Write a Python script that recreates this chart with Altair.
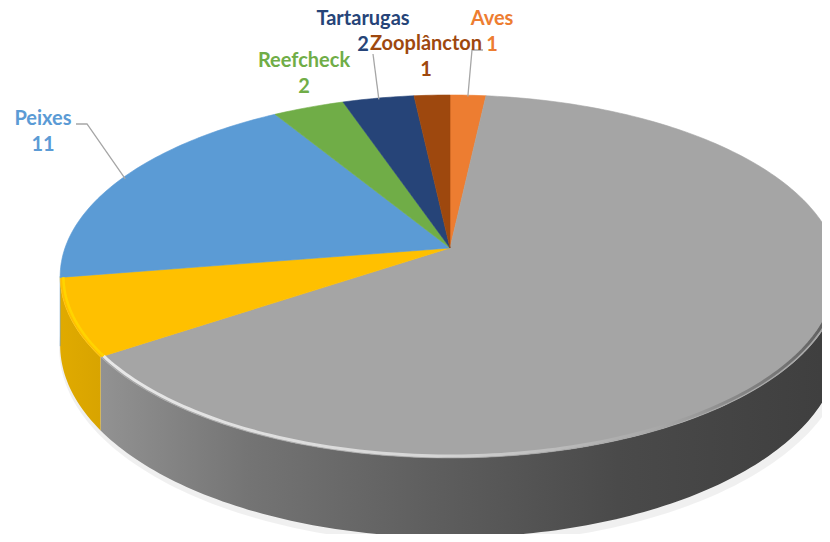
import math
import altair as alt
import pandas as pd

# ---------------- data ----------------
categories = ["Aves", "Corais", "Mamíferos", "Peixes", "Reefcheck", "Tartarugas", "Zooplâncton"]
values = [1, 37, 4, 11, 2, 2, 1]
colors = ["#ED7D31", "#A5A5A5", "#FFC000", "#5B9BD5", "#70AD47", "#264478", "#9E480E"]
wall_colors = ["#C8651F", "#5E5E5E", "#DCA800", "#4A86BE", "#5E963A", "#1C3560", "#7E380A"]

label_cats = ["Aves", "Zooplâncton", "Tartarugas", "Reefcheck", "Peixes"]

# ---------------- layout (3D projection of the pie) ----------------
PAD_TOP = 5
X0, Y0 = 8, 8 + PAD_TOP     # page position of the view's top-left corner
W, H = 814, 526 - PAD_TOP
CX, CY = 450, 248          # pie centre (page px)
A, B, P, DEPTH = 385, 177, 0.157, 67
label_pos = {"Aves": (492, 19), "Zooplâncton": (426, 44), "Tartarugas": (363, 19),
             "Reefcheck": (304, 61), "Peixes": (43, 119)}
leader_pts = {"Aves": [(472, 50), (483, 50)], "Tartarugas": [(373, 54)],
              "Peixes": [(87, 124), (76, 124)]}
LINE_GAP = 26


def proj(phi_deg, r=1.0, z=0.0):
    phi = math.radians(phi_deg)
    X = r * math.sin(phi)
    Y = r * math.cos(phi)
    w = 1 + P * Y
    return CX + A * X / w, CY - B * Y / w + z / w


def arc(a0, a1, r=1.0, z=0.0, step=1.0):
    n = max(2, int(abs(a1 - a0) / step) + 1)
    return [proj(a0 + (a1 - a0) * k / (n - 1), r, z) for k in range(n)]


total = sum(values)
starts, ends = [], []
acc = 0.0
for v in values:
    starts.append(acc / total * 360)
    acc += v
    ends.append(acc / total * 360)

mid = {c: (s + e) / 2 for c, s, e in zip(categories, starts, ends)}

# top faces
top_rows = []
for i, c in enumerate(categories):
    pts = [(CX, CY)] + arc(starts[i], ends[i]) + [(CX, CY)]
    for k, (x, y) in enumerate(pts):
        top_rows.append({"pid": f"t{i}", "k": k, "x": x, "y": y, "cat": c, "color": colors[i]})
top_df = pd.DataFrame(top_rows)

# side walls (visible front part only)
vis0 = math.degrees(math.acos(-P))
vis1 = 360 - vis0
wall_rows = []
for i, c in enumerate(categories):
    lo, hi = max(starts[i], vis0), min(ends[i], vis1)
    if hi <= lo:
        continue
    pts = arc(lo, hi) + arc(hi, lo, z=DEPTH)
    for k, (x, y) in enumerate(pts):
        wall_rows.append({"pid": f"w{i}", "k": k, "x": x, "y": y, "cat": c, "color": wall_colors[i]})
wall_df = pd.DataFrame(wall_rows)

# rim highlight (bevel) for grey & yellow
rim_rows = []
for i, c in enumerate(categories):
    lo, hi = max(starts[i], vis0), min(ends[i], vis1)
    if hi <= lo:
        continue
    for k, (x, y) in enumerate(arc(lo, hi, r=0.992)):
        rim_rows.append({"pid": f"r{i}", "k": k, "x": x, "y": y, "cat": c})
rim_df = pd.DataFrame(rim_rows)

# soft shadow under the wall
shadow_rows = [{"pid": "s", "k": k, "x": x + 3, "y": y + 3}
               for k, (x, y) in enumerate(arc(vis0 - 10, vis1 + 10, z=DEPTH))]
shadow_df = pd.DataFrame(shadow_rows)

# labels
lab_rows = []
for c in label_cats:
    i = categories.index(c)
    lx, ly = label_pos[c]
    lab_rows.append({"x": lx, "y": ly, "text": c, "color": colors[i]})
    lab_rows.append({"x": lx, "y": ly + LINE_GAP, "text": str(values[i]), "color": colors[i]})
lab_df = pd.DataFrame(lab_rows)

lead_rows = []
for c, pts in leader_pts.items():
    ax, ay = proj(mid[c], r=0.99)
    for k, (x, y) in enumerate([(ax, ay)] + pts):
        lead_rows.append({"pid": c, "k": k, "x": x, "y": y})
lead_df = pd.DataFrame(lead_rows)

# ---------------- chart ----------------
xs = alt.X("x:Q", scale=alt.Scale(domain=[X0, X0 + W], nice=False, zero=False), axis=None)
ys = alt.Y("y:Q", scale=alt.Scale(domain=[Y0, Y0 + H], nice=False, zero=False, reverse=True), axis=None)


def poly(df, **mk):
    return alt.Chart(df).mark_line(clip=True, interpolate="linear", **mk).encode(
        x=xs, y=ys, detail="pid:N", order="k:Q")


grey_grad = alt.Gradient(gradient="linear", x1=0, x2=1, y1=0, y2=0, stops=[
    alt.GradientStop(offset=0, color="#929292"),
    alt.GradientStop(offset=0.2, color="#747474"),
    alt.GradientStop(offset=0.45, color="#5e5e5e"),
    alt.GradientStop(offset=0.7, color="#4a4a4a"),
    alt.GradientStop(offset=1, color="#3e3e3e")])
yellow_grad = alt.Gradient(gradient="linear", x1=0, x2=1, y1=0, y2=0, stops=[
    alt.GradientStop(offset=0, color="#E0AA00"),
    alt.GradientStop(offset=1, color="#D8A400")])
grey_rim = alt.Gradient(gradient="linear", x1=0, x2=1, y1=0, y2=0, stops=[
    alt.GradientStop(offset=0, color="rgba(255,255,255,0.75)"),
    alt.GradientStop(offset=0.45, color="rgba(255,255,255,0.55)"),
    alt.GradientStop(offset=0.7, color="rgba(255,255,255,0.1)"),
    alt.GradientStop(offset=0.85, color="rgba(60,60,60,0.25)"),
    alt.GradientStop(offset=1, color="rgba(40,40,40,0.6)")])

shadow = alt.Chart(shadow_df).mark_line(clip=True, stroke="#000000", strokeOpacity=0.06,
                                        strokeWidth=8).encode(x=xs, y=ys, detail="pid:N", order="k:Q")

walls_grey = poly(wall_df[wall_df.cat == "Corais"], filled=True, fill=grey_grad, strokeWidth=0)
walls_yellow = poly(wall_df[wall_df.cat == "Mamíferos"], filled=True, fill=yellow_grad, strokeWidth=0)
walls_other = poly(wall_df[~wall_df.cat.isin(["Corais", "Mamíferos"])], filled=True,
                   strokeWidth=0.5).encode(
    fill=alt.Fill("color:N", scale=None), stroke=alt.Stroke("color:N", scale=None))

tops = poly(top_df, filled=True, strokeWidth=0.6).encode(
    fill=alt.Fill("color:N", scale=None), stroke=alt.Stroke("color:N", scale=None))

rim_grey = alt.Chart(rim_df[rim_df.cat == "Corais"]).mark_line(
    clip=True, stroke=grey_rim, strokeWidth=3).encode(x=xs, y=ys, detail="pid:N", order="k:Q")
rim_yellow = alt.Chart(rim_df[rim_df.cat == "Mamíferos"]).mark_line(
    clip=True, stroke="#FFD400", strokeWidth=2.5).encode(x=xs, y=ys, detail="pid:N", order="k:Q")

leaders = alt.Chart(lead_df).mark_line(stroke="#A6A6A6", strokeWidth=1.3).encode(
    x=xs, y=ys, detail="pid:N", order="k:Q")

labels = alt.Chart(lab_df).mark_text(font="Lato", fontWeight="bold", fontSize=20,
                                     align="center", baseline="middle").encode(
    x=xs, y=ys, text="text:N", color=alt.Color("color:N", scale=None))

chart = alt.layer(shadow, walls_grey, walls_yellow, walls_other, tops, rim_grey, rim_yellow,
                  leaders, labels).properties(
    width=W, height=H, padding={"top": PAD_TOP, "left": 0, "right": 0, "bottom": 0},
    autosize="none"
).configure_view(strokeWidth=0)

chart.save("out.html", embed_options={"renderer": "svg", "actions": False})
